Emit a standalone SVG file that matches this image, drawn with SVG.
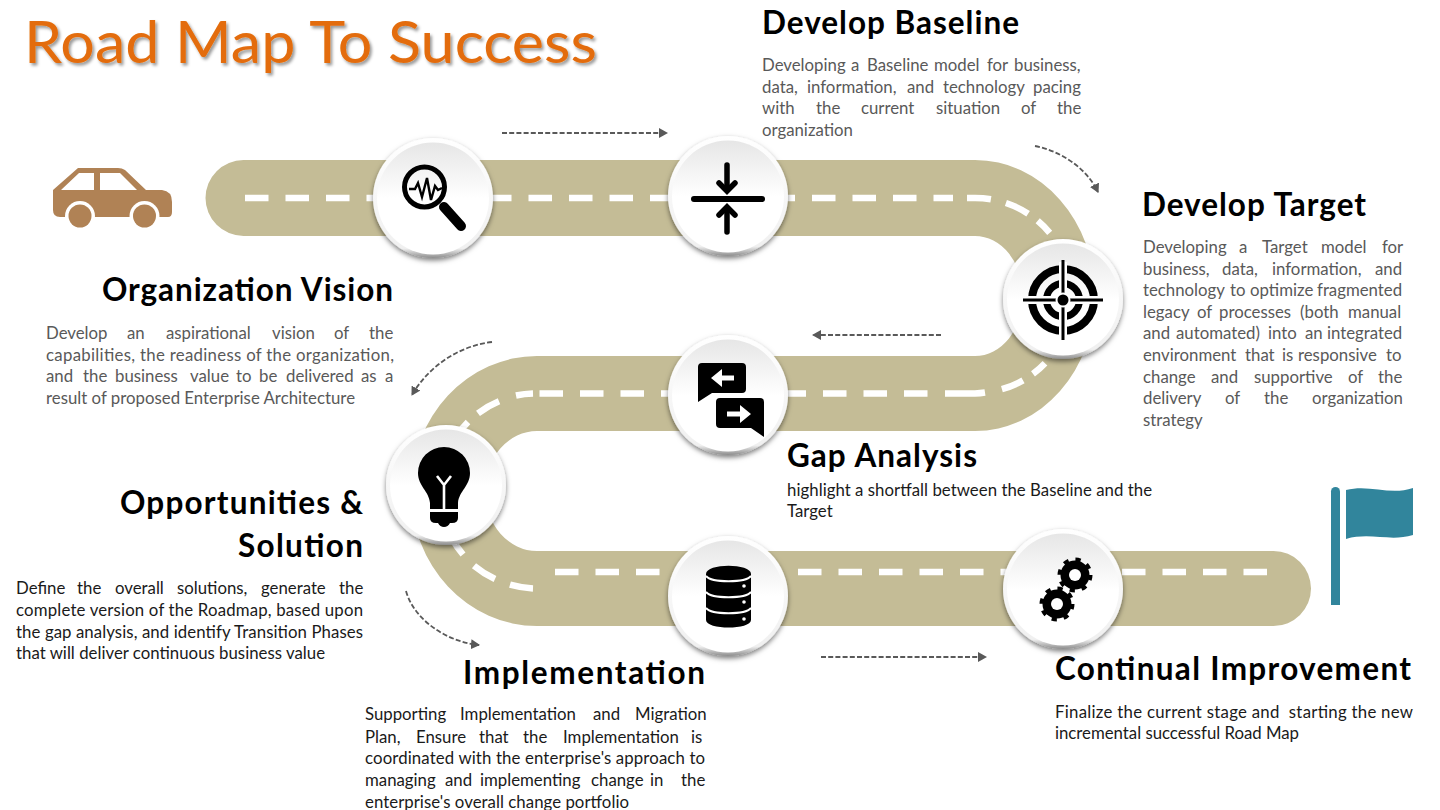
<svg xmlns="http://www.w3.org/2000/svg" width="1440" height="810" viewBox="0 0 1440 810">
<style>
text{font-family:Lato,"Liberation Sans",sans-serif;white-space:pre;transform:translateY(1px)}
.h{font-size:31.5px;font-weight:700;fill:#000}
.g{font-size:16.8px;fill:#595959}
.d{font-size:16.8px;fill:#1a1a1a}
.title{font-size:58px;fill:#E36C0A;filter:url(#ts)}
.dash{fill:none;stroke:#fff;stroke-width:6.5}
.arrow{fill:none;stroke:#595959;stroke-width:1.8;stroke-dasharray:5 2.2;marker-end:url(#ah)}
.ic{fill:#000}
</style>
<defs>
<linearGradient id="face" x1="0" y1="0" x2="0" y2="1"><stop offset="0" stop-color="#e6e6e6"/><stop offset=".5" stop-color="#fff"/><stop offset="1" stop-color="#fff"/></linearGradient>
<linearGradient id="rim" x1="0" y1="0" x2="0" y2="1"><stop offset="0" stop-color="#fff"/><stop offset=".92" stop-color="#f0f0f0"/><stop offset="1" stop-color="#8c8c8c"/></linearGradient>
<filter id="sh" x="-20%" y="-20%" width="140%" height="145%"><feDropShadow dx="0" dy="2.5" stdDeviation="2.5" flood-color="#000" flood-opacity=".5"/></filter>
<filter id="ts" x="-5%" y="-20%" width="110%" height="150%"><feDropShadow dx="2" dy="2.5" stdDeviation="1.5" flood-color="#000" flood-opacity=".4"/></filter>
<marker id="ah" markerUnits="userSpaceOnUse" markerWidth="10" markerHeight="10" refX="8" refY="5" orient="auto"><path d="M0 0L9 5L0 10Z" fill="#595959"/></marker>
<g id="disc"><circle r="60" fill="url(#rim)" filter="url(#sh)"/><circle r="56" cy="0.5" fill="url(#face)"/></g>
<g id="gear"><circle r="14.5" class="ic"/><circle r="15.5" fill="none" stroke="#000" stroke-width="4" stroke-dasharray="5.2 6.97"/><circle r="6" fill="#fff"/></g>
</defs>
<rect width="1440" height="810" fill="#fff"/>
<text class="title" x="24" y="62" textLength="573" lengthAdjust="spacingAndGlyphs">Road Map To Success</text>

<g id="road">
<path d="M243.5 160H975A120 135.5 0 0 1 975 431H537A52 60 0 0 0 537 551H1273.5A37.5 37.5 0 0 1 1273.5 626H537A126 135 0 0 1 537 356H975A48 60 0 0 0 975 236H243.5A38 38 0 0 1 243.5 160Z" fill="#C4BC96"/>
<path class="dash" d="M245 198H953" stroke-dasharray="23.5 17"/>
<path class="dash" d="M967 198H975A97.75 97.75 0 0 1 990.9 199.3M1005.9 203A97.75 97.75 0 0 1 1028.1 213.7M1037.7 220.8A97.75 97.75 0 0 1 1049.7 232.8"/>
<path class="dash" d="M1045 363.2A97.75 97.75 0 0 1 1033 373.9M1023 380.4A97.75 97.75 0 0 1 1001.9 389.2M985 392.5A97.75 97.75 0 0 1 975 393.5H945"/>
<path class="dash" d="M927.5 393.5H539" stroke-dasharray="23.5 17"/>
<path class="dash" d="M533 393.5A97.5 97.5 0 0 0 516 395.5M499 401.3A97.5 97.5 0 0 0 478 413.3M468 422A97.5 97.5 0 0 0 455 438"/>
<path class="dash" d="M445 523A97.5 97.5 0 0 0 463 554.5M474 565.7A97.5 97.5 0 0 0 495 579M510 584.7A97.5 97.5 0 0 0 533 588.4"/>
<path class="dash" d="M555 572H1268" stroke-dasharray="23.5 17"/>
</g>

<g id="connectors">
<path class="arrow" d="M502 133H667"/>
<path class="arrow" d="M1035 146C1060 151 1086 167 1098 192"/>
<path class="arrow" d="M941 335H813"/>
<path class="arrow" d="M492 342C458 346 428 367 412 395"/>
<path class="arrow" d="M406 591C414 620 447 642 479 645"/>
<path class="arrow" d="M821 657H986"/>
</g>

<g id="car" fill="#B08255">
<path d="M78 168H118Q122 168 125 170L146 190H162Q172 191 172 202V212Q172 217 168 217H60Q53 217 53 210V190Z"/>
<path d="M61 190L79 173H94V190ZM100 173H120L137 190H100Z" fill="#fff"/>
<circle cx="80" cy="216" r="15" fill="#fff"/><circle cx="144.5" cy="216" r="15" fill="#fff"/>
<circle cx="80" cy="216" r="11.5"/><circle cx="144.5" cy="216" r="11.5"/>
</g>

<g id="flag" fill="#31859C">
<path d="M1331 491.5a4.5 4.5 0 0 1 9 0V605H1331Z"/>
<path d="M1346 490C1370 484 1390 496 1413 488V535C1390 542 1370 532 1346 539Z"/>
</g>

<g id="node-vision">
<use href="#disc" x="433" y="198"/>
<circle cx="424.5" cy="187" r="20" fill="none" stroke="#000" stroke-width="5"/>
<path d="M444 207L461 226" stroke="#000" stroke-width="10" stroke-linecap="round"/>
<path d="M409 189H415L418 183L422 197L427 178L431 200L435 186L438 190L442 188" fill="none" stroke="#000" stroke-width="2.4"/>
<text class="h" x="102" y="300" textLength="291">Organization Vision</text>
<text class="g" y="338"><tspan x="46">Develop</tspan><tspan x="127">an</tspan><tspan x="166">aspirational</tspan><tspan x="272">vision</tspan><tspan x="334">of</tspan><tspan x="369">the</tspan></text>
<text class="g" x="46" y="360" textLength="348">capabilities, the readiness of the organization,</text>
<text class="g" y="381"><tspan x="46">and</tspan><tspan x="83">the</tspan><tspan x="115">business</tspan><tspan x="190">value</tspan><tspan x="236">to</tspan><tspan x="259">be</tspan><tspan x="286">delivered</tspan><tspan x="361">as</tspan><tspan x="385">a</tspan></text>
<text class="g" x="46" y="403" textLength="309">result of proposed Enterprise Architecture</text>
</g>

<g id="node-baseline">
<use href="#disc" x="728" y="196"/>
<path d="M694 199H762" stroke="#000" stroke-width="6" stroke-linecap="round"/>
<path d="M727 165V188M727 210V232" stroke="#000" stroke-width="5.5" stroke-linecap="round"/>
<path d="M719 183L727 191L735 183M719 215L727 207L735 215" fill="none" stroke="#000" stroke-width="5.5" stroke-linecap="round"/>
<text class="h" x="762" y="33" textLength="257">Develop Baseline</text>
<text class="g" y="70"><tspan x="762">Developing</tspan><tspan x="851">a</tspan><tspan x="867">Baseline</tspan><tspan x="934">model</tspan><tspan x="987">for</tspan><tspan x="1014">business,</tspan></text>
<text class="g" y="92"><tspan x="762">data,</tspan><tspan x="807">information,</tspan><tspan x="907">and</tspan><tspan x="943">technology</tspan><tspan x="1033">pacing</tspan></text>
<text class="g" y="113"><tspan x="762">with</tspan><tspan x="816">the</tspan><tspan x="861">current</tspan><tspan x="936">situation</tspan><tspan x="1021">of</tspan><tspan x="1057">the</tspan></text>
<text class="g" x="762" y="135">organization</text>
</g>

<g id="node-target">
<use href="#disc" x="1063" y="299"/>
<circle cx="1063" cy="300" r="31" fill="none" stroke="#000" stroke-width="8"/>
<circle cx="1063" cy="300" r="16.5" fill="none" stroke="#000" stroke-width="7"/>
<path d="M1063 262V338M1025 300H1101" stroke="#fff" stroke-width="8"/>
<path d="M1063 260V340M1023 300H1103" stroke="#000" stroke-width="3"/>
<circle cx="1063" cy="300" r="7.5" fill="#fff"/><circle cx="1063" cy="300" r="5.5"/>
<text class="h" x="1142" y="215" textLength="224">Develop Target</text>
<text class="g" y="252"><tspan x="1143">Developing</tspan><tspan x="1239">a</tspan><tspan x="1262">Target</tspan><tspan x="1321">model</tspan><tspan x="1382">for</tspan></text>
<text class="g" y="274"><tspan x="1143">business,</tspan><tspan x="1222">data,</tspan><tspan x="1272">information,</tspan><tspan x="1375">and</tspan></text>
<text class="g" y="295"><tspan x="1143">technology</tspan><tspan x="1230">to</tspan><tspan x="1250">optimize</tspan><tspan x="1317">fragmented</tspan></text>
<text class="g" y="317"><tspan x="1143">legacy</tspan><tspan x="1197">of</tspan><tspan x="1219">processes</tspan><tspan x="1300">(both</tspan><tspan x="1348">manual</tspan></text>
<text class="g" y="338"><tspan x="1143">and</tspan><tspan x="1176">automated)</tspan><tspan x="1268">into</tspan><tspan x="1305">an</tspan><tspan x="1327">integrated</tspan></text>
<text class="g" y="360"><tspan x="1143">environment</tspan><tspan x="1245">that</tspan><tspan x="1282">is</tspan><tspan x="1298">responsive</tspan><tspan x="1386">to</tspan></text>
<text class="g" y="382"><tspan x="1143">change</tspan><tspan x="1211">and</tspan><tspan x="1254">supportive</tspan><tspan x="1348">of</tspan><tspan x="1378">the</tspan></text>
<text class="g" y="403"><tspan x="1143">delivery</tspan><tspan x="1225">of</tspan><tspan x="1264">the</tspan><tspan x="1312">organization</tspan></text>
<text class="g" x="1143" y="425">strategy</text>
</g>

<g id="node-gap">
<use href="#disc" x="728" y="395"/>
<path d="M702 363H742a4 4 0 0 1 4 4V389a4 4 0 0 1-4 4H712L698 402V367a4 4 0 0 1 4-4Z"/>
<path d="M720 398H760a4 4 0 0 1 4 4V437L751 428H720a4 4 0 0 1-4-4V402a4 4 0 0 1 4-4Z"/>
<path d="M711 378L722 369V375.5H734V380.5H722V387Z" fill="#fff"/>
<path d="M751 414L740 405V411.5H727V416.5H740V423Z" fill="#fff"/>
<text class="h" x="787" y="466" textLength="190">Gap Analysis</text>
<text class="d" x="787" y="495" textLength="365">highlight a shortfall between the Baseline and the</text>
<text class="d" x="787" y="516">Target</text>
</g>

<g id="node-opportunities">
<use href="#disc" x="446" y="485"/>
<path d="M444 447A26 26 0 0 1 470 473C470 486 459 491 458 503V509H430V503C429 491 418 486 418 473A26 26 0 0 1 444 447Z"/>
<path d="M430 512H458V518Q458 523 452 523H450Q448 527 444 527Q440 527 438 523H436Q430 523 430 518Z"/>
<path d="M437 476L444 485L451 476M444 485V509" fill="none" stroke="#fff" stroke-width="2.6"/>
<text class="h" x="120" y="513" textLength="243">Opportunities &amp;</text>
<text class="h" x="238" y="556" textLength="125">Solution</text>
<text class="d" y="593"><tspan x="16">Define</tspan><tspan x="77">the</tspan><tspan x="115">overall</tspan><tspan x="177">solutions,</tspan><tspan x="261">generate</tspan><tspan x="339">the</tspan></text>
<text class="d" x="16" y="615" textLength="347">complete version of the Roadmap, based upon</text>
<text class="d" x="16" y="637" textLength="347">the gap analysis, and identify Transition Phases</text>
<text class="d" x="16" y="658" textLength="309">that will deliver continuous business value</text>
</g>

<g id="node-implementation">
<use href="#disc" x="728" y="596"/>
<path d="M706 574C706 563 751 563 751 574V620C751 630 706 630 706 620Z"/>
<path d="M706 576C712 583 745 583 751 576M706 592C712 599 745 599 751 592M706 608C712 615 745 615 751 608" fill="none" stroke="#fff" stroke-width="2"/>
<circle cx="744" cy="586" r="1.8" fill="#fff"/><circle cx="744" cy="602" r="1.8" fill="#fff"/><circle cx="744" cy="619" r="1.8" fill="#fff"/>
<text class="h" x="463" y="683" textLength="242">Implementation</text>
<text class="d" y="719"><tspan x="365">Supporting</tspan><tspan x="460">Implementation</tspan><tspan x="593">and</tspan><tspan x="635">Migration</tspan></text>
<text class="d" y="742"><tspan x="365">Plan,</tspan><tspan x="416">Ensure</tspan><tspan x="479">that</tspan><tspan x="523">the</tspan><tspan x="563">Implementation</tspan><tspan x="691">is</tspan></text>
<text class="d" x="365" y="763" textLength="340">coordinated with the enterprise's approach to</text>
<text class="d" y="785"><tspan x="365">managing</tspan><tspan x="445">and</tspan><tspan x="480">implementing</tspan><tspan x="591">change</tspan><tspan x="650">in</tspan><tspan x="681">the</tspan></text>
<text class="d" x="365" y="807" textLength="264">enterprise's overall change portfolio</text>
</g>

<g id="node-improvement">
<use href="#disc" x="1063" y="589"/>
<use href="#gear" x="1075" y="575"/>
<use href="#gear" x="1057" y="604"/>
<text class="h" x="1055" y="679" textLength="356">Continual Improvement</text>
<text class="d" x="1055" y="717" textLength="358">Finalize the current stage and  starting the new</text>
<text class="d" x="1055" y="738" textLength="244">incremental successful Road Map</text>
</g>
</svg>
